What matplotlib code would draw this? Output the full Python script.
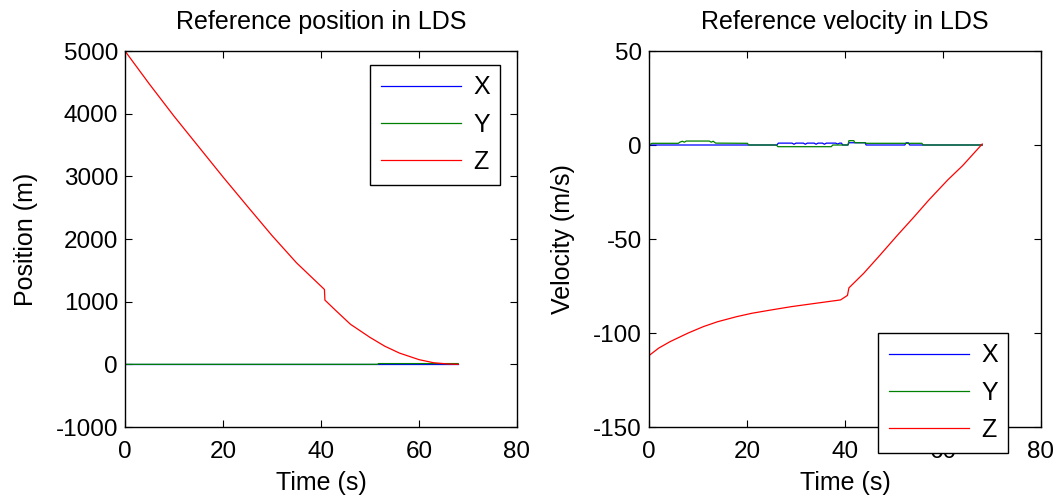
import matplotlib
matplotlib.use("Agg")
import matplotlib.pyplot as plt

plt.rcParams['font.family'] = ['Liberation Sans', 'DejaVu Sans']
plt.rcParams['axes.unicode_minus'] = False

# ---- Position data (LDS) ----
pos_t = [0, 5, 10, 15, 20, 25, 30, 35, 40.7, 40.8, 43, 46, 50, 53, 56, 60, 63, 66, 68]
pos_z = [5000, 4470, 3960, 3475, 2990, 2520, 2055, 1620, 1195, 1025, 860, 640, 430, 290, 180, 75, 25, 5, 0]
posx_t = [0, 68]
posx_v = [0, 0]
posy_t = [0, 51.6, 51.7, 68]
posy_v = [0, 0, 12, 12]

# ---- Velocity data (LDS) ----
velz_t = [0, 2, 4.3, 8, 11.1, 14, 17.9, 21, 24.8, 29, 32.9, 36, 39.1, 40.5, 40.8,
          43.8, 47, 50.7, 54, 57.1, 61, 64, 68]
velz_v = [-112, -108, -104.6, -100, -96.6, -94, -91.3, -89.5, -87.8, -86, -84.6, -83.5,
          -82.4, -80, -76, -68.3, -59, -48, -38.5, -29.3, -18.5, -11, 0.5]
velx_t = [0, 26.1, 26.4, 29.2, 29.6, 30.0, 31.5, 31.9, 32.3, 33.7, 34.1, 34.5, 35.4, 35.8,
          36.2, 38.1, 38.5, 38.9, 39.3, 39.5, 40.6, 40.8, 44.1, 44.3, 52.2, 52.5, 52.9, 53.2, 68]
velx_v = [0, 0, 1.0, 1.0, 0.4, 1.0, 1.0, 0.4, 1.0, 1.0, 0.4, 1.0, 1.0, 0.4,
          1.0, 1.0, 0.5, 1.0, 1.0, 0, 0, 1.2, 1.2, 0, 0, 1.2, 1.2, 0, 0]
vely_t = [0, 0.6, 6.0, 6.3, 6.8, 7.2, 7.6, 12.3, 12.7, 13.1, 13.6, 20.1, 20.3, 26.0, 26.3,
          37.2, 37.5, 40.6, 40.8, 41.8, 42.0, 44.2, 44.3, 55.7, 55.9, 68]
vely_v = [0, 0.9, 0.9, 1.5, 2.0, 1.5, 2.1, 2.1, 1.5, 2.0, 1.0, 0.9, 0, 0, -0.9,
          -0.9, 0, 0, 2.3, 2.3, 1.2, 1.2, 0.9, 0.9, 0, 0]

labels = ['X', 'Y', 'Z']
c_x, c_y, c_z = '#0000ff', '#008000', '#ff0000'

W, H = 1056, 497
fig = plt.figure(figsize=(W / 100, H / 100), dpi=100)
ax_l = fig.add_axes([125 / W, 1 - 427 / H, 392 / W, 376 / H])
ax_r = fig.add_axes([649 / W, 1 - 427 / H, 392 / W, 376 / H])

lw = 0.9
ax_l.plot(posx_t, posx_v, color=c_x, lw=lw, label=labels[0])
ax_l.plot(posy_t, posy_v, color=c_y, lw=lw, label=labels[1])
ax_l.plot(pos_t, pos_z, color=c_z, lw=lw, label=labels[2])

ax_r.plot(velx_t, velx_v, color=c_x, lw=lw, label=labels[0])
ax_r.plot(vely_t, vely_v, color=c_y, lw=lw, label=labels[1])
ax_r.plot(velz_t, velz_v, color=c_z, lw=lw, label=labels[2])

tick_fs = 17.5
lab_fs = 18
for ax in (ax_l, ax_r):
    ax.set_xlim(0, 80)
    ax.set_xticks([0, 20, 40, 60, 80])
    ax.tick_params(direction='in', top=True, right=True, length=5, width=0.8,
                   labelsize=tick_fs)
    ax.tick_params(axis='y', pad=5)
    ax.tick_params(axis='x', pad=10)
    for s in ax.spines.values():
        s.set_linewidth(1.0)
    ax.set_xlabel('Time (s)', fontsize=lab_fs, labelpad=6)

ax_l.set_ylim(-1000, 5000)
ax_l.set_yticks([-1000, 0, 1000, 2000, 3000, 4000, 5000])
ax_l.set_ylabel('Position (m)', fontsize=lab_fs, labelpad=13)
ax_l.set_title('Reference position in LDS', fontsize=18, pad=16)

ax_r.set_ylim(-150, 50)
ax_r.set_yticks([-150, -100, -50, 0, 50])
ax_r.set_ylabel('Velocity (m/s)', fontsize=lab_fs, labelpad=13)
ax_r.set_title('Reference velocity in LDS', fontsize=18, pad=16)

leg_kw = dict(loc='upper left', fontsize=18, frameon=True, fancybox=False,
              handlelength=3.2, handletextpad=0.5, labelspacing=0.53, borderpad=0.42,
              borderaxespad=0.0)
lg1 = ax_l.legend(bbox_to_anchor=((370 - 125) / 392, (427 - 65) / 376), **leg_kw)
lg2 = ax_r.legend(bbox_to_anchor=((878 - 649) / 392, (427 - 333) / 376), **leg_kw)
for lg in (lg1, lg2):
    fr = lg.get_frame()
    fr.set_edgecolor('black')
    fr.set_linewidth(1.0)
    fr.set_alpha(1)

fig.savefig('out.png', dpi=100, facecolor='white')
